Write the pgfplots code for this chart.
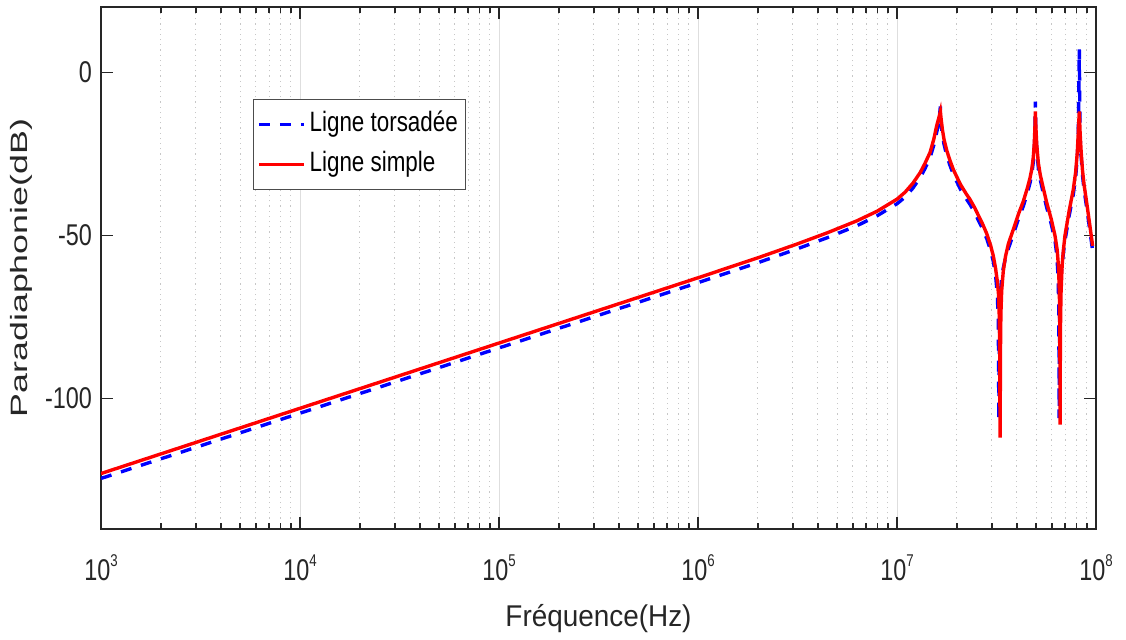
\documentclass[border=0pt]{standalone}
\usepackage{pgfplots}
\pgfplotsset{compat=1.18}
\usepackage{fontspec}
\setmainfont{Liberation Sans}[FakeStretch=0.8]
\newfontfamily\tickfont{Liberation Sans}[FakeStretch=0.78]
\newfontfamily\xlabfont{Liberation Sans}[FakeStretch=0.93]
\newfontfamily\ylabfont{Liberation Sans}
\definecolor{axgray}{RGB}{38,38,38}
\newcommand{\pw}[1]{10\raisebox{7pt}{\fontsize{8.5}{9}\selectfont #1}}
\begin{document}
\begin{tikzpicture}
\useasboundingbox (-50.5pt,-55pt) rectangle (512.5pt,264.5pt);
\begin{axis}[
  scale only axis, width=497.5pt, height=261pt,
  xmode=log, xmin=1e3, xmax=1e8, ymin=-140, ymax=20,
  xtick={1e3,1e4,1e5,1e6,1e7,1e8},
  xticklabels={\pw{3},\pw{4},\pw{5},\pw{6},\pw{7},\pw{8}},
  ytick={-100,-50,0}, yticklabels={-100,-50,0},
  minor y tick num=0,
  tick align=inside,
  major tick length=6pt, minor tick length=3pt,
  axis line style={draw=axgray, line width=0.75pt},
  every tick/.style={draw=axgray, line width=0.75pt},
  xmajorgrids, xminorgrids,
  major x grid style={draw=black!13, line width=0.5pt},
  minor x grid style={draw=black!22, line width=0.5pt, dash pattern=on 0.6pt off 2pt},
  tick label style={font=\tickfont\fontsize{15}{17}\selectfont, text=axgray},
  xticklabel style={anchor=base, yshift=-25.5pt},
  yticklabel style={xshift=-1pt},
  xlabel={\xlabfont Fréquence(Hz)},
  ylabel={\scalebox{1}[0.66]{\ylabfont Paradiaphonie(dB)}},
  xlabel style={font=\fontsize{15}{17}\selectfont, text=axgray, at={(axis description cs:0.5,-0.1877)}, anchor=base},
  ylabel style={font=\fontsize{17.9}{20}\selectfont, text=axgray, at={(axis description cs:-0.0735,0.5)}, anchor=base},
  legend style={at={(0.1525,0.824)}, anchor=north west, draw=black!70, line width=0.5pt,
    fill=white, font=\fontsize{14}{16}\selectfont, inner xsep=2pt, inner ysep=5pt, row sep=5pt,
    nodes={inner xsep=2pt, inner ysep=0pt, text height=11pt, text depth=4pt}},
  legend cell align=left,
  legend image code/.code={\draw[#1] (0pt,0pt) -- (22.5pt,0pt);},
]
\addplot[blue, line width=1.7pt, dash pattern=on 5.5pt off 5pt] coordinates {
(1000,-124.5) (1e4,-104.5) (1e5,-84.5) (1e6,-64.5) (1.995e6,-58.4) (3.162e6,-54.1)
(4.467e6,-50.7) (6.310e6,-47) (7.943e6,-44) (1e7,-40.3) (1.0965e7,-38.3) (1.2023e7,-35.5)
(1.3062e7,-32.3) (1.3804e7,-29.6) (1.4655e7,-26.2) (1.5311e7,-22.3) (1.5812e7,-18.5) (1.6218e7,-15.5)
(1.6520e7,-10.5) (1.6672e7,-16) (1.6904e7,-19) (1.7219e7,-22) (1.7783e7,-25.5) (1.8450e7,-28.5)
(1.9187e7,-31.3) (1.9953e7,-33.5) (2.0893e7,-36) (2.2131e7,-38.5) (2.3281e7,-40.5) (2.4547e7,-43)
(2.5704e7,-45.5) (2.6915e7,-48) (2.8249e7,-51) (2.9512e7,-54.5) (3.0479e7,-58) (3.1261e7,-62)
(3.1915e7,-68) (3.2285e7,-76) (3.2509e7,-106.7) (3.2734e7,-78) (3.3037e7,-68) (3.3574e7,-63)
(3.4198e7,-60) (3.5075e7,-57) (3.6308e7,-54) (3.8459e7,-49.6) (4.0738e7,-45) (4.3152e7,-41)
(4.5186e7,-37) (4.6559e7,-34) (4.7534e7,-31.3) (4.8417e7,-27.5) (4.8978e7,-23.5) (4.9317e7,-19)
(4.9545e7,-9) (4.9888e7,-19) (5.0350e7,-23.5) (5.1286e7,-29.2) (5.2481e7,-33) (5.4325e7,-37)
(5.6494e7,-41.4) (5.9566e7,-46.5) (6.2230e7,-51.6) (6.3533e7,-56) (6.4417e7,-62) (6.5013e7,-72)
(6.5313e7,-106) (6.5615e7,-74) (6.6222e7,-64) (6.7608e7,-59) (6.8549e7,-55.5) (6.9823e7,-51.6)
(7.3282e7,-44) (7.6913e7,-37.4) (7.9068e7,-32) (8.0538e7,-26) (8.1470e7,-20) (8.2414e7,7)
(8.3176e7,-20) (8.4140e7,-25.5) (8.5507e7,-31.5) (8.7096e7,-36) (8.9743e7,-41.4) (9.2897e7,-48)
(9.6161e7,-54.7)
};
\addlegendentry{Ligne torsadée}
\addplot[red, line width=1.7pt] coordinates {
(1000,-123) (1e4,-103) (1e5,-83) (1e6,-63) (1.995e6,-56.9) (3.162e6,-52.6)
(4.467e6,-49.2) (6.310e6,-45.5) (7.943e6,-42.6) (1e7,-38.9) (1.0965e7,-36.8) (1.2023e7,-34)
(1.3062e7,-30.8) (1.3804e7,-28) (1.4655e7,-24.6) (1.5311e7,-20.5) (1.5812e7,-16.5) (1.6218e7,-14)
(1.6520e7,-12) (1.6672e7,-14.5) (1.6904e7,-17.5) (1.7219e7,-20.5) (1.7783e7,-24) (1.8450e7,-27)
(1.9187e7,-29.8) (1.9953e7,-32) (2.0893e7,-34.5) (2.2131e7,-37) (2.3281e7,-39) (2.4547e7,-41.5)
(2.5704e7,-44) (2.6915e7,-46.5) (2.8249e7,-49.5) (2.9512e7,-53) (3.0479e7,-56.3) (3.1261e7,-60)
(3.1915e7,-64) (3.2359e7,-68) (3.2659e7,-75) (3.2810e7,-85) (3.2961e7,-112) (3.3113e7,-85)
(3.3266e7,-74) (3.3574e7,-67) (3.4198e7,-61) (3.5075e7,-56.5) (3.6308e7,-52.5) (3.8459e7,-48.1)
(4.0738e7,-43.5) (4.3152e7,-39.5) (4.5186e7,-35.5) (4.6559e7,-32.5) (4.7534e7,-29.8) (4.8417e7,-26)
(4.8978e7,-21.5) (4.9317e7,-17) (4.9545e7,-12) (4.9888e7,-17) (5.0350e7,-22) (5.1286e7,-27.7)
(5.2481e7,-31.5) (5.4325e7,-35.5) (5.6494e7,-39.9) (5.9566e7,-45) (6.2230e7,-50.1) (6.3826e7,-54.5)
(6.4863e7,-60) (6.5464e7,-68) (6.5842e7,-80) (6.5993e7,-108) (6.6222e7,-80) (6.6681e7,-68)
(6.7608e7,-59) (6.8549e7,-54.5) (6.9823e7,-50.1) (7.3282e7,-42.5) (7.6913e7,-35.9) (7.9068e7,-30.5)
(8.0538e7,-24.5) (8.1470e7,-18.5) (8.2414e7,-12) (8.3176e7,-18.5) (8.4140e7,-24) (8.5507e7,-30)
(8.7096e7,-34.5) (8.9743e7,-39.9) (9.2897e7,-46.5) (9.6161e7,-53.2)
};
\addlegendentry{Ligne simple}
\end{axis}
\end{tikzpicture}
\end{document}
